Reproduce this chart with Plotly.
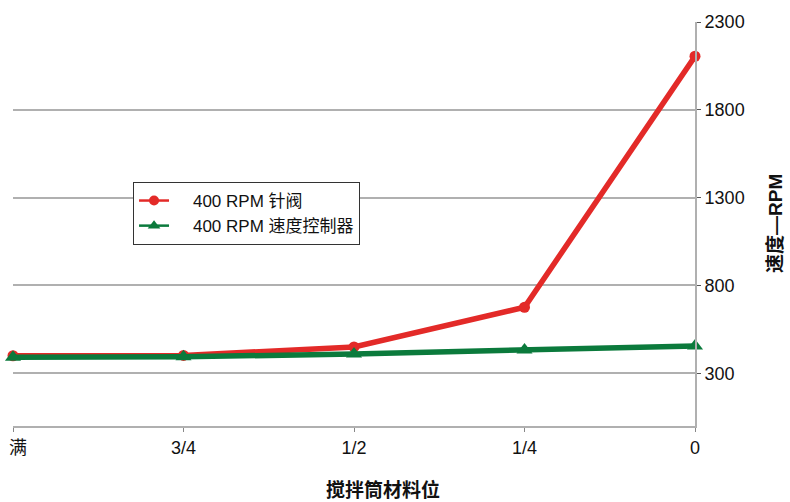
import plotly.graph_objects as go

categories = ["满", "3/4", "1/2", "1/4", "0"]
tick_text = ["&nbsp;&nbsp;满", "3/4", "1/2", "1/4", "0"]
needle_valve = [400, 402, 450, 676, 2105]
speed_ctrl = [392, 394, 410, 432, 456]
y_ticks = [300, 800, 1300, 1800, 2300]
series_names = ["&nbsp;&nbsp;&nbsp;&nbsp;400 RPM 针阀", "&nbsp;&nbsp;&nbsp;&nbsp;400 RPM 速度控制器"]

FONT = "Liberation Sans, Arial, Noto Sans CJK SC, sans-serif"
RED = "#e32a28"
GREEN = "#0b7a3c"

fig = go.Figure()
fig.add_trace(go.Scatter(
    x=categories, y=needle_valve, name=series_names[0], showlegend=False,
    mode="lines+markers", line=dict(color=RED, width=5.5),
    marker=dict(symbol="circle", size=11, color=RED), cliponaxis=False))
fig.add_trace(go.Scatter(
    x=categories, y=speed_ctrl, name=series_names[1], showlegend=False,
    mode="lines+markers", line=dict(color=GREEN, width=5.5),
    marker=dict(symbol="triangle-up", size=14, color=GREEN), cliponaxis=False))
# legend entries (thin line + marker, as in the reference legend)
fig.add_trace(go.Scatter(
    x=[None], y=[None], name=series_names[0], mode="lines+markers",
    line=dict(color=RED, width=2.5), marker=dict(symbol="circle", size=10, color=RED)))
fig.add_trace(go.Scatter(
    x=[None], y=[None], name=series_names[1], mode="lines+markers",
    line=dict(color=GREEN, width=2.5), marker=dict(symbol="triangle-up", size=11, color=GREEN)))

fig.update_layout(
    width=790, height=502,
    margin=dict(l=13, r=95, t=22, b=76, autoexpand=False),
    paper_bgcolor="white", plot_bgcolor="white",
    font=dict(family=FONT, size=18, color="#111"),
    showlegend=True,
    legend=dict(x=0.176, y=0.604, xanchor="left", yanchor="top",
                bordercolor="#333", borderwidth=1, bgcolor="white",
                font=dict(size=17), tracegroupgap=0),
    xaxis=dict(type="category", range=[0, 4], showgrid=False, automargin=False,
               tickvals=categories, ticktext=tick_text,
               showline=True, linecolor="#b0b0b0", linewidth=2,
               ticks="outside", ticklen=4, tickcolor="#888",
               tickfont=dict(size=18), zeroline=False),
    yaxis=dict(range=[0, 2300], side="right", tickvals=y_ticks, automargin=False,
               showgrid=True, gridcolor="#b0b0b0", gridwidth=1.5,
               showline=True, linecolor="#b0b0b0", linewidth=2,
               ticks="outside", ticklen=4, tickcolor="#555",
               tickfont=dict(size=18), zeroline=False),
    annotations=[
        dict(text="<b>搅拌筒材料位</b>", xref="paper", yref="paper",
             x=0.5425, y=-0.158, xanchor="center", yanchor="middle",
             showarrow=False, font=dict(size=19)),
        dict(text="<b>速度—RPM</b>", xref="paper", yref="paper",
             x=1.117, y=0.502, xanchor="center", yanchor="middle",
             textangle=-90, showarrow=False, font=dict(size=19)),
    ],
)

fig.write_html("out.html", config={"displayModeBar": False},
               post_script="document.body.style.margin='0';document.body.style.overflow='hidden';")
